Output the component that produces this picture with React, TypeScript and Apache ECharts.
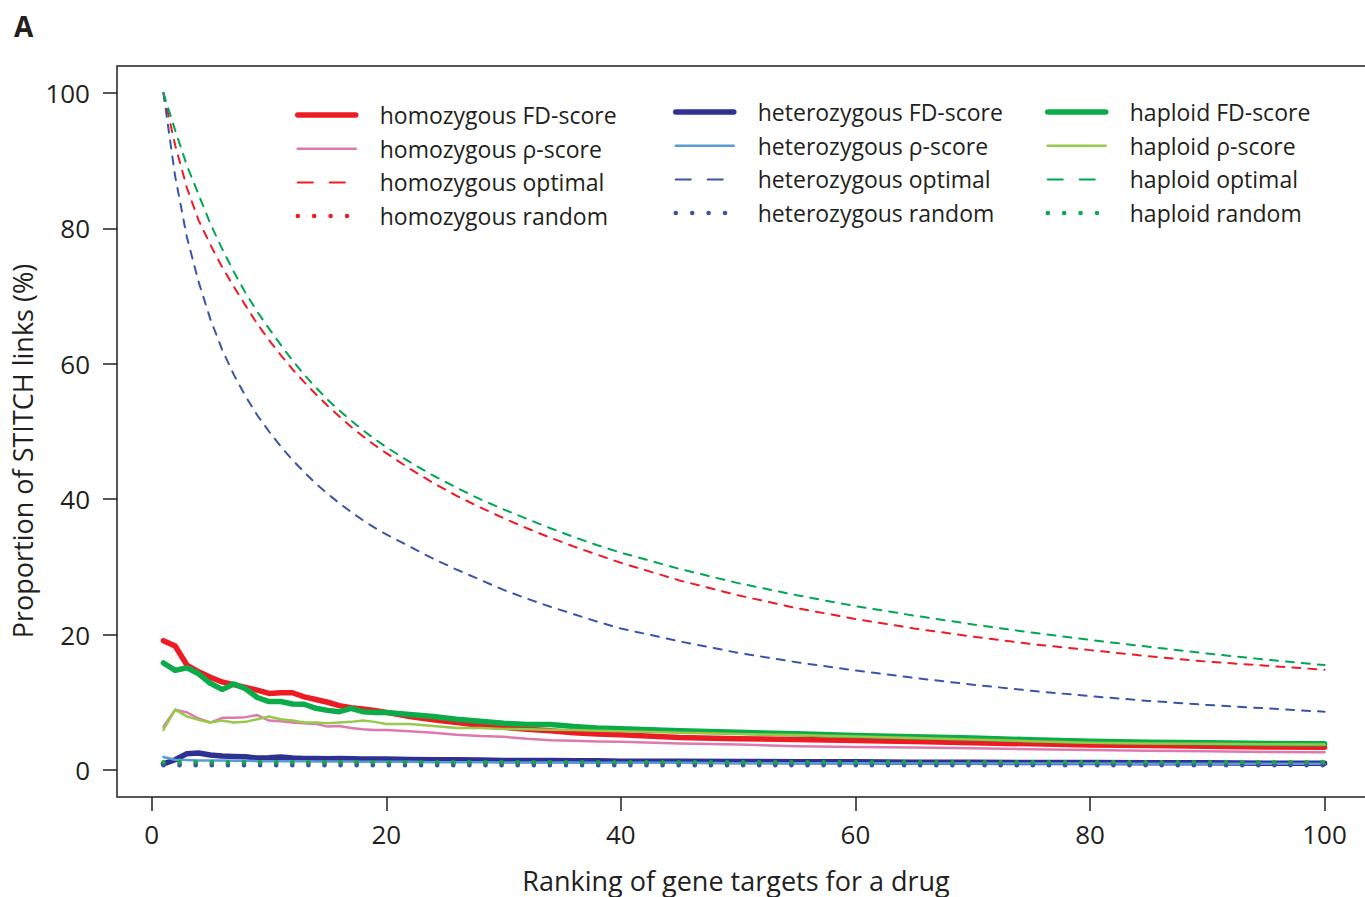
import React, { useEffect, useRef } from "react";
import * as echarts from "echarts";

const ranks = [1, 2, 3, 4, 5, 6, 7, 8, 9, 10, 11, 12, 13, 14, 15, 16, 17, 18, 19, 20, 22, 24, 26, 28, 30, 32, 34, 36, 38, 40, 45, 50, 55, 60, 65, 70, 75, 80, 85, 90, 95, 100];

const homFD = [19.1, 18.3, 15.5, 14.5, 13.7, 13.0, 12.6, 12.2, 11.8, 11.3, 11.4, 11.4, 10.8, 10.4, 10.0, 9.5, 9.2, 9.0, 8.8, 8.5, 7.9, 7.4, 7.0, 6.6, 6.3, 6.0, 5.8, 5.5, 5.3, 5.2, 4.8, 4.6, 4.5, 4.35, 4.2, 4.0, 3.85, 3.7, 3.6, 3.5, 3.4, 3.35];
const homRho = [6.4, 8.9, 8.5, 7.6, 7.0, 7.7, 7.7, 7.8, 8.1, 7.3, 7.2, 7.0, 6.9, 6.8, 6.4, 6.5, 6.2, 6.0, 5.9, 5.9, 5.7, 5.5, 5.2, 5.0, 4.9, 4.6, 4.4, 4.3, 4.2, 4.15, 3.9, 3.75, 3.5, 3.4, 3.3, 3.2, 3.05, 2.95, 2.85, 2.75, 2.65, 2.6];
const homOpt = [100, 92.3, 86, 81.2, 77.6, 74.3, 71.4, 68.6, 65.9, 63.5, 61.3, 59.2, 57.3, 55.5, 53.8, 52.2, 50.7, 49.3, 48, 46.8, 44.5, 42.4, 40.5, 38.8, 37.2, 35.7, 34.3, 33, 31.8, 30.6, 28, 25.8, 23.9, 22.3, 20.9, 19.7, 18.6, 17.7, 16.8, 16, 15.4, 14.8];

const hetFD = [0.9, 1.5, 2.4, 2.5, 2.2, 2.05, 2.0, 1.95, 1.75, 1.8, 1.9, 1.75, 1.7, 1.7, 1.65, 1.7, 1.65, 1.6, 1.6, 1.6, 1.55, 1.5, 1.5, 1.45, 1.4, 1.4, 1.4, 1.35, 1.35, 1.3, 1.3, 1.25, 1.2, 1.2, 1.15, 1.15, 1.1, 1.1, 1.05, 1.05, 1.0, 1.0];
const hetRho = [1.9, 1.5, 1.45, 1.4, 1.4, 1.4, 1.35, 1.35, 1.3, 1.3, 1.3, 1.3, 1.3, 1.25, 1.25, 1.25, 1.25, 1.2, 1.2, 1.2, 1.2, 1.15, 1.15, 1.15, 1.1, 1.1, 1.1, 1.1, 1.05, 1.05, 1.05, 1.0, 1.0, 1.0, 0.95, 0.95, 0.95, 0.95, 0.9, 0.9, 0.9, 0.9];
const hetOpt = [100, 87.7, 78.7, 72.1, 66.6, 62.1, 58.4, 55.2, 52.4, 50, 47.8, 45.8, 44, 42.3, 40.8, 39.4, 38.1, 36.9, 35.8, 34.8, 33, 31.2, 29.6, 28.1, 26.6, 25.3, 24.1, 23, 21.9, 20.9, 19, 17.3, 15.9, 14.7, 13.6, 12.6, 11.7, 10.9, 10.2, 9.6, 9.1, 8.6];

const hapFD = [15.8, 14.7, 15.1, 14.2, 12.8, 11.9, 12.7, 12.0, 10.7, 10.1, 10.1, 9.75, 9.7, 9.1, 8.8, 8.6, 9.1, 8.6, 8.5, 8.5, 8.2, 7.9, 7.5, 7.2, 6.9, 6.7, 6.7, 6.4, 6.2, 6.1, 5.8, 5.55, 5.35, 5.1, 4.9, 4.7, 4.45, 4.25, 4.1, 4.0, 3.9, 3.85];
const hapRho = [5.9, 8.9, 7.9, 7.4, 7.0, 7.3, 7.0, 7.1, 7.5, 7.9, 7.5, 7.3, 7.0, 7.0, 6.9, 7.0, 7.1, 7.3, 7.1, 6.8, 6.8, 6.5, 6.2, 6.2, 6.05, 6.0, 5.95, 5.9, 5.8, 5.7, 5.5, 5.3, 5.15, 4.95, 4.7, 4.5, 4.25, 4.0, 3.9, 3.85, 3.8, 3.75];
const hapOpt = [100, 94.5, 89.3, 85, 80.7, 77, 73.6, 70.5, 67.7, 65.2, 62.8, 60.5, 58.4, 56.5, 54.7, 53.1, 51.6, 50.2, 48.9, 47.7, 45.5, 43.5, 41.7, 40, 38.5, 37.1, 35.7, 34.4, 33.2, 32.1, 29.7, 27.6, 25.8, 24.2, 22.8, 21.5, 20.3, 19.2, 18.2, 17.2, 16.3, 15.5];

const randomRanks = [1, 100];
const homRandom = [0.95, 0.95];
const hetRandom = [0.7, 0.7];
const hapRandom = [1.15, 1.15];

const xTicks = [0, 20, 40, 60, 80, 100];
const yTicks = [0, 20, 40, 60, 80, 100];

const FONT = "Open Sans";
const TXT = "#231f20";

const C = {
  red: "#ed1c24",
  pink: "#de79ad",
  navy: "#2e3192",
  lightBlue: "#5b9bd5",
  blueDash: "#3a55a8",
  green: "#0cab4a",
  lime: "#97c94a",
  greenDash: "#00a651",
};

const DASH = [8, 8];
const DOT = [0.1, 16];
const LEG_DASH = [15, 17];
const LEG_DOT = [0.1, 16.3];

function pairs(xs: number[], ys: number[]) {
  return xs.map((x, i) => [x, ys[i]]);
}

function line(name: string, xs: number[], ys: number[], color: string, width: number, type: any, z: number) {
  return {
    name,
    type: "line",
    data: pairs(xs, ys),
    symbol: "none",
    showSymbol: false,
    z,
    color,
    lineStyle: { color, width, type, cap: "round", join: "round" },
  };
}

function legendItem(name: string, kind: string) {
  if (kind === "fd") return { name, lineStyle: { width: 5.5, type: "solid" } };
  if (kind === "rho") return { name, lineStyle: { width: 2.5, type: "solid" } };
  if (kind === "dash") return { name, lineStyle: { type: LEG_DASH, width: 2 } };
  return { name, lineStyle: { type: LEG_DOT, width: 4.5 } };
}

function legendCol(left: number, top: number, names: string[]) {
  return {
    orient: "vertical",
    left,
    top,
    itemWidth: 58,
    itemHeight: 14,
    itemGap: 9.7,
    padding: 0,
    selectedMode: false,
    itemStyle: { opacity: 0 },
    textStyle: { fontFamily: FONT, fontSize: 23, lineHeight: 24, color: TXT, padding: [0, 0, 0, 19] },
    data: [
      legendItem(names[0], "fd"),
      legendItem(names[1], "rho"),
      legendItem(names[2], "dash"),
      legendItem(names[3], "dot"),
    ],
  };
}

export default function App() {
  const ref = useRef<HTMLDivElement>(null);
  useEffect(() => {
    if (!ref.current) return;
    const chart = echarts.init(ref.current, undefined, { renderer: "svg" });
    const series = [
      line("homozygous FD-score", ranks, homFD, C.red, 5.5, "solid", 2),
      line("homozygous ρ-score", ranks, homRho, C.pink, 2.5, "solid", 2),
      line("heterozygous FD-score", ranks, hetFD, C.navy, 5.5, "solid", 2),
      line("heterozygous ρ-score", ranks, hetRho, C.lightBlue, 2.5, "solid", 2),
      line("haploid FD-score", ranks, hapFD, C.green, 5.5, "solid", 2),
      line("haploid ρ-score", ranks, hapRho, C.lime, 2.5, "solid", 2),
      line("homozygous optimal", ranks, homOpt, C.red, 2, DASH, 3),
      line("heterozygous optimal", ranks, hetOpt, C.blueDash, 2, DASH, 3),
      line("haploid optimal", ranks, hapOpt, C.greenDash, 2, DASH, 3),
      line("homozygous random", randomRanks, homRandom, C.red, 4.5, DOT, 4),
      line("heterozygous random", randomRanks, hetRandom, C.blueDash, 4.5, DOT, 4),
      line("haploid random", randomRanks, hapRandom, C.green, 4.5, DOT, 4),
    ];
    chart.setOption({
      animation: false,
      backgroundColor: "#ffffff",
      textStyle: { fontFamily: FONT },
      grid: {
        left: 117,
        top: 66,
        width: 1254,
        height: 731,
        show: true,
        borderColor: "#231f20",
        borderWidth: 1.5,
        backgroundColor: "transparent",
      },
      legend: [
        legendCol(295, 103, ["homozygous FD-score", "homozygous ρ-score", "homozygous optimal", "homozygous random"]),
        legendCol(673, 100, ["heterozygous FD-score", "heterozygous ρ-score", "heterozygous optimal", "heterozygous random"]),
        legendCol(1045, 100, ["haploid FD-score", "haploid ρ-score", "haploid optimal", "haploid random"]),
      ],
      xAxis: {
        type: "value",
        min: -2.96,
        max: 103.96,
        splitLine: { show: false },
        axisLine: { show: false, onZero: false },
        axisTick: { show: true, inside: false, customValues: xTicks, length: 14, lineStyle: { color: "#231f20", width: 1.5 } },
        axisLabel: { customValues: xTicks, fontSize: 26, color: TXT, margin: 24, fontFamily: FONT },
      },
      yAxis: {
        type: "value",
        min: -4,
        max: 104,
        splitLine: { show: false },
        axisLine: { show: false, onZero: false },
        axisTick: { show: true, inside: false, customValues: yTicks, length: 14, lineStyle: { color: "#231f20", width: 1.5 } },
        axisLabel: { customValues: yTicks, fontSize: 26, color: TXT, margin: 27, fontFamily: FONT },
      },
      graphic: [
        {
          type: "text",
          left: 14,
          top: 12,
          style: { text: "A", fontFamily: FONT, fontWeight: "bold", fontSize: 28, fill: TXT },
        },
        {
          type: "text",
          x: 736,
          y: 880,
          style: {
            text: "Ranking of gene targets for a drug",
            fontFamily: FONT,
            fontSize: 27,
            fill: TXT,
            align: "center",
            verticalAlign: "middle",
          },
        },
        {
          type: "text",
          x: 22,
          y: 451,
          rotation: Math.PI / 2,
          style: {
            text: "Proportion of STITCH links (%)",
            fontFamily: FONT,
            fontSize: 27,
            fill: TXT,
            align: "center",
            verticalAlign: "middle",
          },
        },
      ],
      series,
    });
    return () => chart.dispose();
  }, []);
  return <div ref={ref} style={{ position: "fixed", left: 0, top: 0, width: 1385, height: 897 }} />;
}
